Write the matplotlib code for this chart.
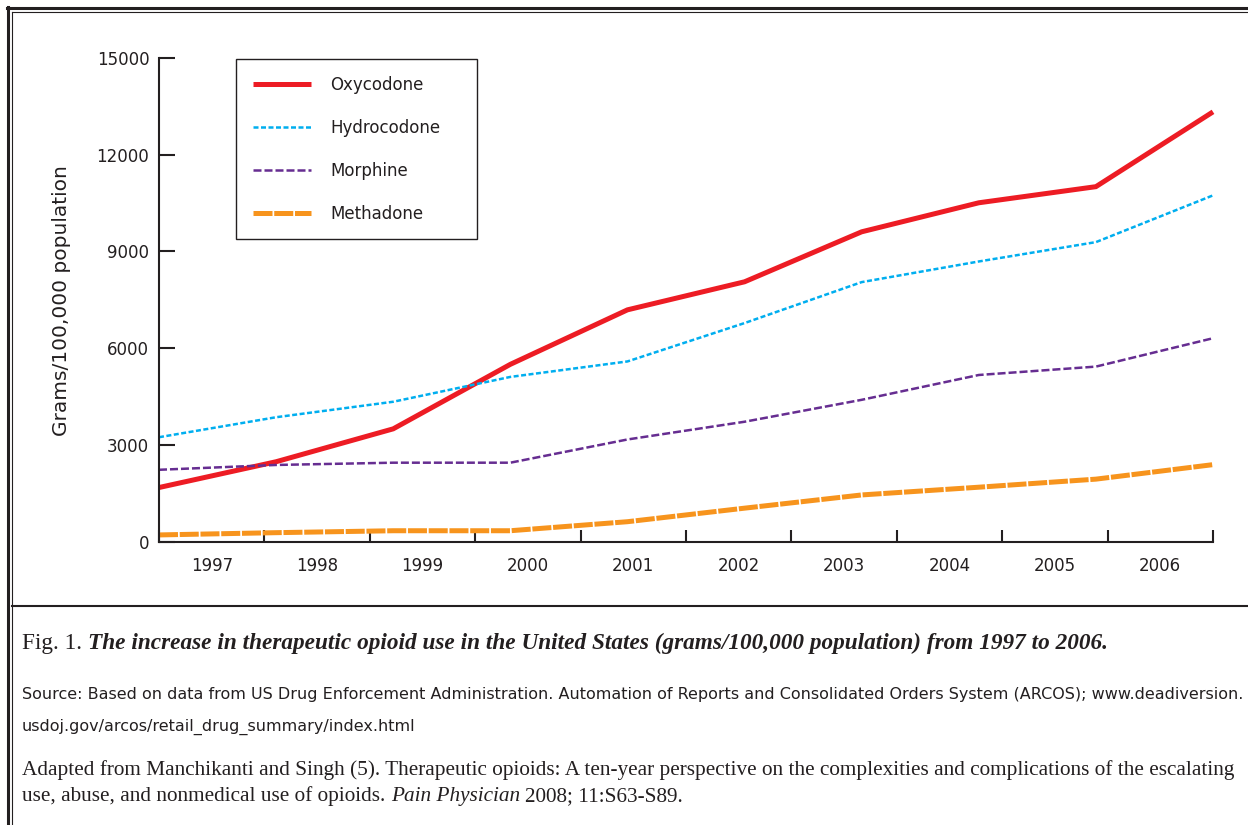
import matplotlib
matplotlib.use('Agg')
import matplotlib.pyplot as plt
from matplotlib.lines import Line2D
import numpy as np

# ---------------- data ----------------
years = [1997, 1998, 1999, 2000, 2001, 2002, 2003, 2004, 2005, 2006]
oxycodone = [1680, 2480, 3500, 5500, 7190, 8060, 9610, 10510, 11010, 13330]
hydrocodone = [3240, 3860, 4340, 5110, 5590, 6780, 8050, 8690, 9290, 10740]
morphine = [2230, 2380, 2450, 2450, 3170, 3720, 4400, 5170, 5430, 6310]
methadone = [210, 280, 340, 340, 620, 1040, 1450, 1690, 1940, 2390]
series_names = ["Oxycodone", "Hydrocodone", "Morphine", "Methadone"]
yticks = [0, 3000, 6000, 9000, 12000, 15000]
ylabel = "Grams/100,000 population"

caption_fig = "Fig. 1."
caption_title = ("The increase in therapeutic opioid use in the United States "
                 "(grams/100,000 population) from 1997 to 2006.")
source_1 = ("Source: Based on data from US Drug Enforcement Administration. Automation of "
            "Reports and Consolidated Orders System (ARCOS); www.deadiversion.")
source_2 = "usdoj.gov/arcos/retail_drug_summary/index.html"
adapted_1 = ("Adapted from Manchikanti and Singh (5). Therapeutic opioids: A ten-year perspective "
             "on the complexities and complications of the escalating")
adapted_2a = "use, abuse, and nonmedical use of opioids."
adapted_2b = "Pain Physician"
adapted_2c = "2008; 11:S63-S89."

# ---------------- style ----------------
W, H = 1248, 825
DARK = "#231f20"
colors = ["#ed1c24", "#00aeef", "#662d91", "#f7941d"]

fig = plt.figure(figsize=(W / 100, H / 100), dpi=100)
fig.patch.set_facecolor("white")

ax_l, ax_r, ax_b, ax_t = 159, 1213, 541.7, 58
ax = fig.add_axes([ax_l / W, 1 - ax_b / H, (ax_r - ax_l) / W, (ax_b - ax_t) / H])

x = np.arange(len(years))
n = len(years)
band = (n - 1) / n

ax.plot(x, oxycodone, color=colors[0], lw=3.6, solid_capstyle='butt',
        solid_joinstyle='miter', clip_on=False, label=series_names[0])
ax.plot(x, hydrocodone, color=colors[1], lw=1.8, dashes=(2.0, 1.0),
        clip_on=False, label=series_names[1])
ax.plot(x, morphine, color=colors[2], lw=1.8, dashes=(3.2, 1.2),
        clip_on=False, label=series_names[2])
ax.plot(x, methadone, color=colors[3], lw=3.6, dashes=(3.8, 0.35),
        clip_on=False, label=series_names[3])

ax.set_xlim(0, n - 1)
ax.set_ylim(0, 15000)

for s in ["top", "right"]:
    ax.spines[s].set_visible(False)
for s in ["left", "bottom"]:
    ax.spines[s].set_color(DARK)
    ax.spines[s].set_linewidth(1.5)

ax.set_xticks([band * k for k in range(n + 1)])
ax.set_xticklabels([])
ax.set_xticks([band * (k + 0.5) for k in range(n)], minor=True)
ax.set_xticklabels([str(y) for y in years], minor=True)
ax.tick_params(axis='x', which='major', direction='in', length=8.6, width=1.5, color=DARK)
ax.tick_params(axis='x', which='minor', length=0, pad=11, labelsize=12, labelcolor=DARK)

ax.set_yticks(yticks)
ax.set_yticklabels([str(v) for v in yticks])
ax.tick_params(axis='y', direction='in', length=11.5, width=1.5, color=DARK,
               pad=7, labelsize=12, labelcolor=DARK)

leg = ax.legend(loc='upper left', bbox_to_anchor=((236 - ax_l) / (ax_r - ax_l), 0.5,
                                                   241 / (ax_r - ax_l), 0.998 - 0.5),
                mode='expand', borderaxespad=0, fontsize=12, handlelength=3.5,
                handletextpad=1.15, labelspacing=1.5, borderpad=1.0,
                fancybox=False, framealpha=1, edgecolor=DARK)
leg.get_frame().set_linewidth(1.0)
for t in leg.get_texts():
    t.set_color(DARK)

fig.text(62 / W, 1 - 301 / H, ylabel, rotation=90, ha='center', va='center',
         fontsize=14.5, color=DARK)

# ---------------- frame ----------------
def hline(y, x0, x1, lw):
    fig.add_artist(Line2D([x0 / W, x1 / W], [1 - y / H, 1 - y / H],
                          transform=fig.transFigure, color=DARK, lw=lw))

def vline(xp, y0, y1, lw):
    fig.add_artist(Line2D([xp / W, xp / W], [1 - y0 / H, 1 - y1 / H],
                          transform=fig.transFigure, color=DARK, lw=lw))

hline(8, 7, W, 2.2)
hline(12, 11.5, W, 0.8)
vline(8, 7, H, 2.2)
vline(12, 11.5, H, 0.8)
hline(605.5, 12, W, 1.5)

# ---------------- caption ----------------
fig.canvas.draw()
r = fig.canvas.get_renderer()

def width_of(s, **kw):
    t = fig.text(0, 0, s, **kw)
    w = t.get_window_extent(r).width
    t.remove()
    return w

def run(x0, base, parts, size):
    xp = x0
    for i, (s, kw) in enumerate(parts):
        fig.text(xp / W, 1 - base / H, s, ha='left', va='baseline', fontsize=size,
                 color=DARK, **kw)
        xp += width_of(s, fontsize=size, **kw)
        if i < len(parts) - 1:
            xp += width_of("a a", fontsize=size, **kw) - width_of("aa", fontsize=size, **kw)
    return xp

def fit_size(parts, target, size=12.0):
    for _ in range(3):
        total = 0
        for i, (s, kw) in enumerate(parts):
            total += width_of(s, fontsize=size, **kw)
            if i < len(parts) - 1:
                total += width_of("a a", fontsize=size, **kw) - width_of("aa", fontsize=size, **kw)
        size *= target / total
    return size

serif = dict(family="Liberation Serif")
serif_bi = dict(family="Liberation Serif", style="italic", weight="bold")
serif_i = dict(family="Liberation Serif", style="italic")
sans = dict(family="DejaVu Sans")

p1 = [(caption_fig, serif), (caption_title, serif_bi)]
s1 = fit_size(p1, 1091)
run(22, 649, p1, s1)

p2 = [(source_1, sans)]
s2 = fit_size(p2, 1215, 10)
run(22, 699, p2, s2)
run(22, 731, [(source_2, sans)], s2)

p3 = [(adapted_1, serif)]
s3 = fit_size(p3, 1218)
run(22, 775, p3, s3)
run(22, 801, [(adapted_2a, serif), (adapted_2b, serif_i), (adapted_2c, serif)], s3)

fig.savefig("out.png", dpi=100, facecolor="white")
